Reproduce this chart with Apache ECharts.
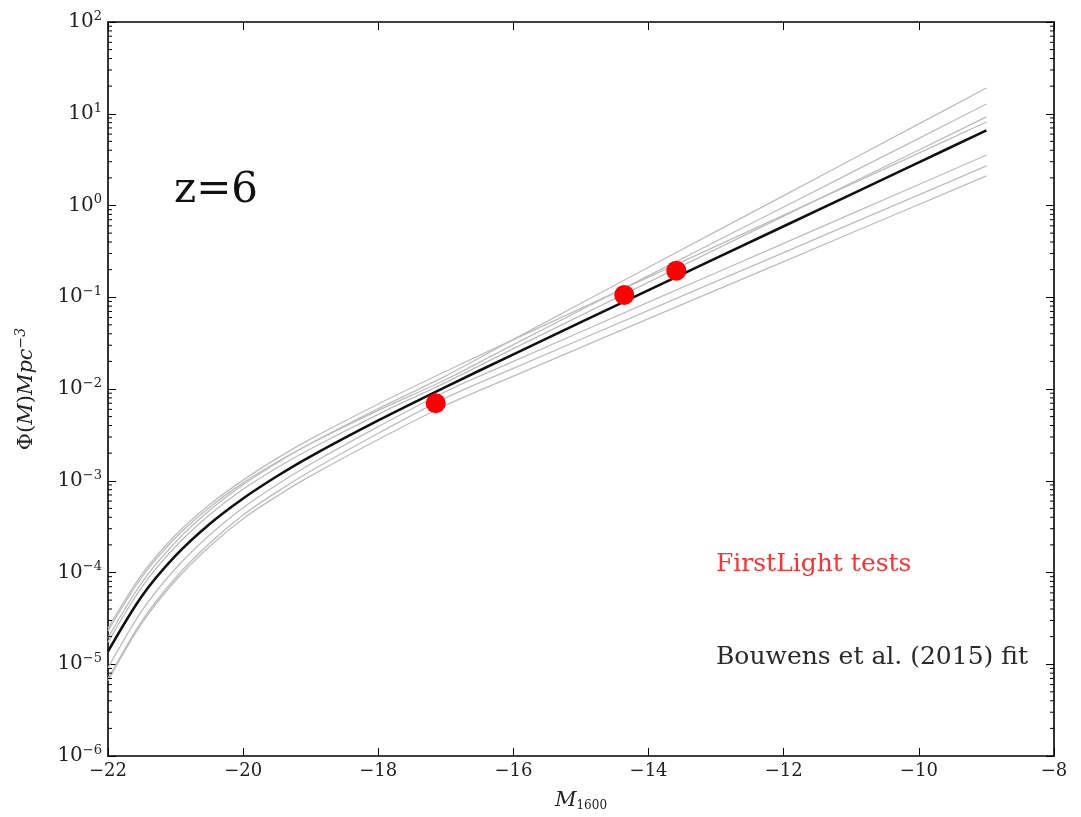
<!DOCTYPE html>
<html>
<head>
<meta charset="utf-8">
<script src="https://cdn.jsdelivr.net/npm/echarts@6/dist/echarts.min.js"></script>
<style>html,body{margin:0;padding:0;background:#fff;}#c{width:1081px;height:817px;}</style>
</head>
<body>
<div id="c"></div>
<script>
// ---- data ----
const mags = [-22, -21.5, -21, -20.5, -20, -19.5, -19, -18, -17, -16, -14, -12, -10, -9];
const bouwensFit = [1.38e-5, 5.51e-5, 1.524e-4, 3.36e-4, 6.41e-4, 1.119e-3, 1.845e-3, 4.54e-3, 1.054e-2, 2.388e-2, 0.1197, 0.594, 2.951, 6.58];
const sample1 = [1.954e-5, 7.78e-5, 2.153e-4, 4.74e-4, 9.06e-4, 1.563e-3, 2.547e-3, 6.12e-3, 1.390e-2, 3.475e-2, 0.2123, 1.282, 7.76, 19.1];
const sample2 = [2.296e-5, 8.88e-5, 2.388e-4, 5.11e-4, 9.48e-4, 1.600e-3, 2.547e-3, 5.85e-3, 1.268e-2, 3.05e-2, 0.1722, 0.964, 5.40, 12.76];
const sample3 = [1.742e-5, 6.93e-5, 1.919e-4, 4.23e-4, 8.07e-4, 1.384e-3, 2.234e-3, 5.30e-3, 1.183e-2, 2.754e-2, 0.1459, 0.767, 4.03, 9.23];
const sample4 = [2.46e-5, 9.52e-5, 2.559e-4, 5.48e-4, 1.016e-3, 1.754e-3, 2.858e-3, 6.87e-3, 1.560e-2, 3.45e-2, 0.1656, 0.785, 3.73, 8.13];
const sample5 = [9.14e-6, 3.81e-5, 1.104e-4, 2.547e-4, 5.09e-4, 9.06e-4, 1.524e-3, 3.89e-3, 9.40e-3, 2.0e-2, 0.0883, 0.387, 1.694, 3.55];
const sample6 = [6.93e-6, 2.958e-5, 8.77e-5, 2.070e-4, 4.24e-4, 7.57e-4, 1.276e-3, 3.29e-3, 8.00e-3, 1.679e-2, 0.0721, 0.307, 1.306, 2.70];
const sample7 = [6.62e-6, 2.793e-5, 8.18e-5, 1.910e-4, 3.86e-4, 6.79e-4, 1.130e-3, 2.818e-3, 6.65e-3, 1.384e-2, 0.0585, 0.245, 1.026, 2.10];
const samples = [sample1, sample2, sample3, sample4, sample5, sample6, sample7];
const firstLightMag = [-17.15, -14.36, -13.59];
const firstLightPhi = [7.0e-3, 0.106, 0.195];

// minor tick values of the log axis (2..9 x 10^k), axis decoration only
const minorTickValues = [];
for (let k = -6; k < 2; k++) for (let m = 2; m <= 9; m++) minorTickValues.push(m * Math.pow(10, k));

const SERIF = "'DejaVu Serif', 'Liberation Serif', serif";
const pair = (xs, ys) => xs.map((x, i) => [x, ys[i]]);

const series = [];
samples.forEach((s, i) => {
  series.push({
    name: 'sample' + (i + 1), type: 'line', xAxisIndex: 0, yAxisIndex: 0,
    data: pair(mags, s), showSymbol: false, smooth: 0.3,
    lineStyle: { color: '#bdbdbd', width: 1.3 }, z: 2, silent: true
  });
});
series.push({
  name: 'Bouwens et al. (2015) fit', type: 'line', xAxisIndex: 0, yAxisIndex: 0,
  data: pair(mags, bouwensFit), showSymbol: false, smooth: 0.3,
  lineStyle: { color: '#111', width: 2.6 }, z: 3, silent: true
});
series.push({
  name: 'FirstLight tests', type: 'scatter', xAxisIndex: 0, yAxisIndex: 0,
  data: pair(firstLightMag, firstLightPhi), symbolSize: 20,
  itemStyle: { color: '#ff0000', opacity: 1 }, z: 4, silent: true
});
// minor ticks on left/right frame, positioned through the log axis scale
series.push({
  name: 'minorTicks', type: 'custom', xAxisIndex: 0, yAxisIndex: 0, silent: true, z: 5,
  data: minorTickValues.map(v => [-22, v]),
  encode: { x: 0, y: 1 },
  clip: false,
  renderItem: function (params, api) {
    const cs = params.coordSys;
    const y = api.coord([api.value(0), api.value(1)])[1];
    const st = { stroke: '#000', lineWidth: 1 };
    return {
      type: 'group', children: [
        { type: 'line', shape: { x1: cs.x, y1: y, x2: cs.x + 4, y2: y }, style: st },
        { type: 'line', shape: { x1: cs.x + cs.width - 4, y1: y, x2: cs.x + cs.width, y2: y }, style: st }
      ]
    };
  }
});

const frameLine = { show: true, onZero: false, lineStyle: { color: '#000', width: 1.6 } };
const majorTick = { show: true, inside: true, length: 8, lineStyle: { color: '#000', width: 1 } };

const option = {
  animation: false,
  backgroundColor: '#fff',
  grid: { left: 108, right: 27, top: 22, bottom: 61, containLabel: false },
  xAxis: [
    {
      type: 'value', min: -22, max: -8, interval: 2, position: 'bottom',
      axisLine: frameLine, axisTick: majorTick, splitLine: { show: false },
      axisLabel: {
        color: '#222', fontFamily: SERIF, fontSize: 18, margin: 6,
        formatter: v => (v < 0 ? '\u2212' : '') + Math.abs(v)
      },
      name: '{i|M}{sub|1600}', nameLocation: 'middle', nameGap: 34,
      nameTextStyle: {
        fontFamily: SERIF, color: '#222',
        rich: {
          i: { fontFamily: SERIF, fontStyle: 'italic', fontSize: 21, color: '#222' },
          sub: { fontFamily: SERIF, fontSize: 12, color: '#222', padding: [10, 0, 0, 0] }
        }
      }
    },
    {
      type: 'value', min: -22, max: -8, interval: 2, position: 'top',
      axisLine: frameLine, axisTick: majorTick,
      axisLabel: { show: false }, splitLine: { show: false }
    }
  ],
  yAxis: [
    {
      type: 'log', logBase: 10, min: 1e-6, max: 100, splitNumber: 8, position: 'left',
      axisLine: frameLine, axisTick: majorTick,
      splitLine: { show: false }, minorTick: { show: false },
      axisLabel: {
        margin: 6, color: '#222', fontFamily: SERIF,
        formatter: v => {
          const e = Math.round(Math.log10(v));
          return '{b|10}{s|' + (e < 0 ? '\u2212' : '') + Math.abs(e) + '}';
        },
        rich: {
          b: { fontFamily: SERIF, fontSize: 20, color: '#222' },
          s: { fontFamily: SERIF, fontSize: 13, color: '#222', padding: [0, 0, 11, 0] }
        }
      },
      name: '\u03A6({i|M}){i|Mpc}{sup|\u22123}', nameLocation: 'middle', nameRotate: 90, nameGap: 68,
      nameTextStyle: {
        fontFamily: SERIF, fontSize: 21, color: '#222',
        rich: {
          i: { fontFamily: SERIF, fontStyle: 'italic', fontSize: 21, color: '#222' },
          sup: { fontFamily: SERIF, fontStyle: 'italic', fontSize: 14, color: '#222', padding: [0, 0, 12, 0] }
        }
      }
    },
    {
      type: 'log', logBase: 10, min: 1e-6, max: 100, splitNumber: 8, position: 'right',
      axisLine: frameLine, axisTick: majorTick,
      axisLabel: { show: false }, splitLine: { show: false }
    }
  ],
  graphic: [
    { type: 'text', left: 174, top: 170, style: { text: 'z=6', fontFamily: SERIF, fontSize: 42, fill: '#111' } },
    { type: 'text', left: 716, top: 552, style: { text: 'FirstLight tests', fontFamily: SERIF, fontSize: 25, fill: '#ff3030' } },
    { type: 'text', left: 716, top: 645, style: { text: 'Bouwens et al. (2015) fit', fontFamily: SERIF, fontSize: 25, fill: '#2a2a2a' } }
  ],
  series: series
};

const chart = echarts.init(document.getElementById('c'), null, { renderer: 'canvas' });
chart.setOption(option);
</script>
</body>
</html>
